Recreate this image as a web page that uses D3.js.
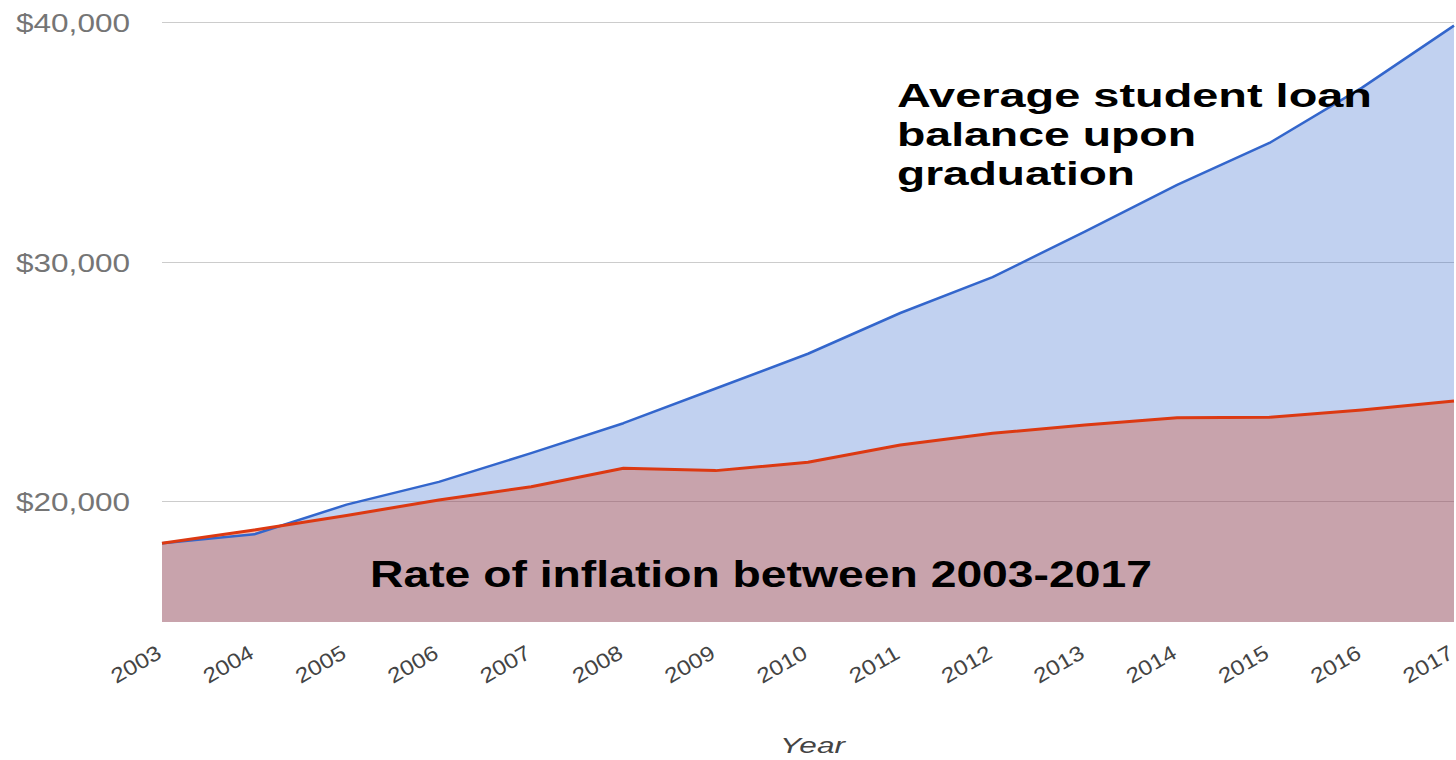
<!DOCTYPE html>
<html>
<head>
<meta charset="utf-8">
<script src="https://cdn.jsdelivr.net/npm/d3@7"></script>
<style>
  html, body { margin: 0; padding: 0; background: #fff; }
  svg { display: block; }
  text { font-family: Arial, "Liberation Sans", sans-serif; }
</style>
</head>
<body>
<script>
// ---- data ----
const years = [2003, 2004, 2005, 2006, 2007, 2008, 2009, 2010, 2011, 2012, 2013, 2014, 2015, 2016, 2017];
const loanBalance = [18240, 18610, 19850, 20800, 22000, 23250, 24700, 26150, 27850, 29350, 31250, 33200, 34950, 37250, 39850];
const inflationAdjusted = [18240, 18790, 19400, 20040, 20600, 21370, 21270, 21620, 22340, 22830, 23175, 23480, 23500, 23800, 24180];
const yTickValues = [20000, 30000, 40000];
const loanLabel = ["Average student loan", "balance upon", "graduation"];
const inflationLabel = "Rate of inflation between 2003-2017";
const xTitle = "Year";

// ---- layout ----
const W = 1456, H = 760;
const svg = d3.select("body").append("svg").attr("width", W).attr("height", H);

const x = d3.scalePoint().domain(years).range([162, 1454]);
const y = d3.scaleLinear().domain([14950, 40000]).range([622, 22]);

// gridlines
svg.append("g").selectAll("line").data(yTickValues).join("line")
  .attr("x1", 162).attr("x2", 1454)
  .attr("y1", d => Math.round(y(d)) + 0.5).attr("y2", d => Math.round(y(d)) + 0.5)
  .attr("stroke", "#cccccc").attr("stroke-width", 1);

// y labels
const fmt = d3.format(",");
svg.append("g").selectAll("text").data(yTickValues).join("text")
  .attr("x", 130).attr("y", d => y(d) + 10)
  .attr("text-anchor", "end")
  .attr("font-size", 26).attr("fill", "#757575")
  .attr("textLength", 114).attr("lengthAdjust", "spacingAndGlyphs")
  .text(d => "$" + fmt(d));

const loanData = years.map((yr, i) => ({ yr, v: loanBalance[i] }));
const inflData = years.map((yr, i) => ({ yr, v: inflationAdjusted[i] }));

const area = d3.area().x(d => x(d.yr)).y0(y(14950)).y1(d => y(d.v));
const line = d3.line().x(d => x(d.yr)).y(d => y(d.v));

svg.append("path").datum(loanData).attr("d", area)
  .attr("fill", "#3366cc").attr("fill-opacity", 0.3);
svg.append("path").datum(inflData).attr("d", area)
  .attr("fill", "#dc3912").attr("fill-opacity", 0.3);

svg.append("path").datum(loanData).attr("d", line)
  .attr("fill", "none").attr("stroke", "#3366cc").attr("stroke-width", 2.5)
  .attr("stroke-linejoin", "round");
svg.append("path").datum(inflData).attr("d", line)
  .attr("fill", "none").attr("stroke", "#dc3912").attr("stroke-width", 3)
  .attr("stroke-linejoin", "round");

// x tick labels
svg.append("g").selectAll("text").data(years).join("text")
  .attr("transform", d => `translate(${x(d) + 1},657) rotate(-30)`)
  .attr("text-anchor", "end")
  .attr("font-size", 21).attr("fill", "#444")
  .attr("textLength", 54).attr("lengthAdjust", "spacingAndGlyphs")
  .text(d => d);

// x title
svg.append("text")
  .attr("x", 780).attr("y", 753)
  .attr("font-size", 22).attr("font-style", "italic").attr("fill", "#444")
  .attr("textLength", 65).attr("lengthAdjust", "spacingAndGlyphs")
  .text(xTitle);

// annotations
const loanWidths = [475, 299, 238];
svg.append("g").selectAll("text").data(loanLabel).join("text")
  .attr("x", 897).attr("y", (d, i) => 107 + i * 39)
  .attr("font-size", 34).attr("font-weight", "bold").attr("fill", "#000")
  .attr("textLength", (d, i) => loanWidths[i]).attr("lengthAdjust", "spacingAndGlyphs")
  .text(d => d);

svg.append("text")
  .attr("x", 370).attr("y", 587)
  .attr("font-size", 36).attr("font-weight", "bold").attr("fill", "#000")
  .attr("textLength", 782).attr("lengthAdjust", "spacingAndGlyphs")
  .text(inflationLabel);
</script>
</body>
</html>
